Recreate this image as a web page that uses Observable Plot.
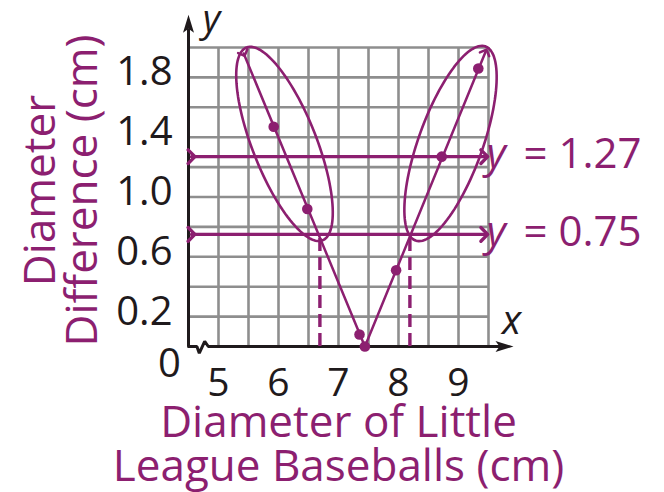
<!DOCTYPE html>
<html>
<head>
<meta charset="utf-8">
<script src="https://cdn.jsdelivr.net/npm/d3@7"></script>
<script src="https://cdn.jsdelivr.net/npm/@observablehq/plot@0.6"></script>
<style>
  body { margin: 0; background: #fff; }
</style>
</head>
<body>
<div id="chart"></div>
<script>
// Measured baseball diameters (cm) and their difference from the standard size
const diameters  = [5.92, 6.48, 7.35, 7.44, 7.96, 8.72, 9.33];
const differences = [1.47, 0.92, 0.08, 0.00, 0.51, 1.27, 1.86];

// Graph of the absolute-value model: left end, vertex, right end
const modelX = [5.42, 7.44, 9.45];
const modelY = [1.96, 0.00, 1.97];

// Horizontal reference lines and their labels
const levels = [1.27, 0.75];
const levelLabels = ["= 1.27", "= 0.75"];
const levelSpan = [4.55, 9.43];

// Where y = 0.75 meets the graph
const crossings = [6.69, 8.19];

// Axis ticks and grid
const xTicks = [5, 6, 7, 8, 9];
const yTicks = [0.2, 0.6, 1.0, 1.4, 1.8];
const xGrid = [5, 5.5, 6, 6.5, 7, 7.5, 8, 8.5, 9, 9.5];
const yGrid = [0.2, 0.4, 0.6, 0.8, 1.0, 1.2, 1.4, 1.6, 1.8, 2.0];

// Axis break on the x-axis near the origin
const breakX = [4.5, 4.64, 4.68, 4.77, 4.83, 9.75];
const breakY = [0, 0, -0.045, 0.035, 0, 0];

// Ellipses circling the two branches: centre, half major axis, half minor axis (data units)
const ellipseCx = [6.10, 8.867];
const ellipseCy = [1.355, 1.358];
const ellipseUx = [-0.633, 0.583];
const ellipseUy = [0.645, 0.649];
const ellipseVx = [0.497, 0.502];
const ellipseVy = [0.078, -0.073];

const purple = "#8c1f70";
const ink = "#1f1a1c";
const gridGray = "#8e8e8e";
const font = "'Open Sans', sans-serif";

const points = diameters.map((x, i) => ({x, y: differences[i]}));
const model = modelX.map((x, i) => ({x, y: modelY[i]}));
const levelLines = levels.flatMap((y, i) => levelSpan.map(x => ({x, y, k: i})));
const ellipses = ellipseCx.flatMap((cx, k) =>
  d3.range(0, 361, 3).map(a => {
    const t = a * Math.PI / 180;
    return {
      k,
      x: cx + ellipseUx[k] * Math.cos(t) + ellipseVx[k] * Math.sin(t),
      y: ellipseCy[k] + ellipseUy[k] * Math.cos(t) + ellipseVy[k] * Math.sin(t)
    };
  })
);
const axisBreak = breakX.map((x, i) => ({x, y: breakY[i]}));

// Filled barbed arrowheads for the axes
const arrowUp = {draw(ctx) { ctx.moveTo(0, -10); ctx.lineTo(5.5, 8); ctx.lineTo(0, 4); ctx.lineTo(-5.5, 8); ctx.closePath(); }};
const arrowRight = {draw(ctx) { ctx.moveTo(10, 0); ctx.lineTo(-8, 5.5); ctx.lineTo(-4, 0); ctx.lineTo(-8, -5.5); ctx.closePath(); }};

const chart = Plot.plot({
  width: 664,
  height: 492,
  marginLeft: 188,
  marginRight: 176,
  marginTop: 47,
  marginBottom: 146,
  x: {domain: [4.5, 9.5], axis: null},
  y: {domain: [0, 2], axis: null},
  style: {fontFamily: font, background: "#fff", overflow: "visible"},
  marks: [
    // grid
    Plot.ruleX(xGrid, {y1: 0, y2: 2, stroke: gridGray, strokeWidth: 2.6}),
    Plot.ruleY(yGrid, {x1: 4.5, x2: 9.5, stroke: gridGray, strokeWidth: 2.6}),

    // axes
    Plot.ruleX([4.5], {y1: 0, y2: 2.12, stroke: ink, strokeWidth: 3}),
    Plot.line(axisBreak, {x: "x", y: "y", stroke: ink, strokeWidth: 3, strokeLinejoin: "miter"}),
    Plot.dot([0], {x: 4.5, y: 2.153, symbol: arrowUp, fill: ink, stroke: "none"}),
    Plot.dot([0], {x: 9.75, y: 0, symbol: arrowRight, fill: ink, stroke: "none"}),

    // y = c reference lines
    Plot.line(levelLines, {x: "x", y: "y", z: "k", stroke: purple, strokeWidth: 3.4, markerStart: "arrow", markerEnd: "arrow"}),

    // dashed drops from the crossings
    Plot.ruleX(crossings, {y1: 0, y2: 0.75, stroke: purple, strokeWidth: 3.4, strokeDasharray: "13,6"}),

    // ellipses
    Plot.line(ellipses, {x: "x", y: "y", z: "k", stroke: purple, strokeWidth: 2.6}),

    // model graph
    Plot.line(model, {x: "x", y: "y", stroke: purple, strokeWidth: 2.5, markerStart: "arrow", markerEnd: "arrow"}),

    // data points
    Plot.dot(points, {x: "x", y: "y", r: 5.3, fill: purple}),

    // tick labels
    Plot.text(yTicks, {x: 4.5, y: d => d, text: d => d.toFixed(1), textAnchor: "end", lineAnchor: "bottom",
      dx: -16, dy: 8, fontSize: 40, fill: ink}),
    Plot.text(xTicks, {x: d => d, y: 0, text: d => String(d), textAnchor: "middle", lineAnchor: "bottom",
      dy: 49, fontSize: 39, fill: ink}),
    Plot.text(["0"], {x: 4.5, y: 0, text: d => d, textAnchor: "middle", lineAnchor: "bottom",
      dx: -19, dy: 30, fontSize: 40, fill: ink}),

    // axis variable names
    Plot.text(["y"], {x: 4.5, y: 2, text: d => d, textAnchor: "middle", lineAnchor: "bottom",
      dx: 23, dy: -16, fontSize: 38, fontStyle: "italic", fill: ink}),
    Plot.text(["x"], {x: 9.5, y: 0, text: d => d, textAnchor: "middle", lineAnchor: "bottom",
      dx: 23, dy: -13, fontSize: 40, fontStyle: "italic", fill: ink}),

    // labels of the reference lines
    Plot.text(levels, {x: 9.5, y: d => d, text: () => "y", textAnchor: "start", lineAnchor: "bottom",
      dx: -2, dy: 11.5, fontSize: 42, fontStyle: "italic", fill: purple}),
    Plot.text(levels, {x: 9.5, y: d => d, text: (d, i) => levelLabels[i], textAnchor: "start", lineAnchor: "bottom",
      dx: 35, dy: 11.5, fontSize: 42, fill: purple}),

    // axis titles
    Plot.text(["Diameter\nDifference (cm)"], {frameAnchor: "left", text: d => d, rotate: -90,
      textAnchor: "middle", lineAnchor: "middle", lineHeight: 0.95, dx: -126, dy: -6.5, fontSize: 44, fill: purple}),
    Plot.text(["Diameter of Little\nLeague Baseballs (cm)"], {frameAnchor: "bottom", text: d => d,
      textAnchor: "middle", lineAnchor: "bottom", lineHeight: 0.98, dy: 134, fontSize: 44, fill: purple})
  ]
});

document.getElementById("chart").append(chart);
</script>
</body>
</html>
